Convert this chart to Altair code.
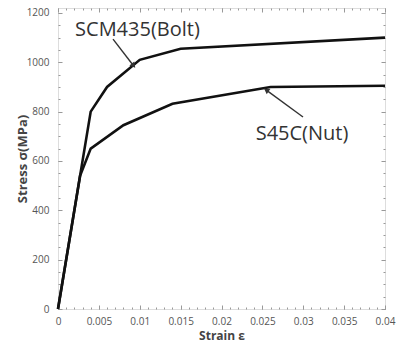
import altair as alt
import pandas as pd

# ---- data ----
scm_strain = [0.0, 0.004, 0.006, 0.010, 0.015, 0.040]
scm_stress = [0, 800, 900, 1010, 1055, 1100]
s45_strain = [0.0, 0.0027, 0.004, 0.008, 0.014, 0.026, 0.040]
s45_stress = [0, 540, 650, 745, 832, 900, 905]

x_major = [0, 0.005, 0.01, 0.015, 0.02, 0.025, 0.03, 0.035, 0.04]
x_minor = [i / 1000 for i in range(0, 41)]
y_major = [0, 200, 400, 600, 800, 1000, 1200]
y_minor = list(range(0, 1201, 50))

labels = ["SCM435(Bolt)", "S45C(Nut)"]
label_x = [0.00972, 0.02985]
label_y = [1130, 710]
arrow_x = [0.00673, 0.02997]
arrow_y = [1094, 778]
arrow_x2 = [0.00917, 0.02557]
arrow_y2 = [989, 885]
arrow_angle = [142, 305]

rows = []
for s, e in zip(scm_strain, scm_stress):
    rows.append({"series": "SCM435", "strain": s, "stress": e})
for s, e in zip(s45_strain, s45_stress):
    rows.append({"series": "S45C", "strain": s, "stress": e})
df = pd.DataFrame(rows)

ann = pd.DataFrame({"label": labels, "x": label_x, "y": label_y})
arr = pd.DataFrame({"x": arrow_x, "y": arrow_y, "x2": arrow_x2, "y2": arrow_y2,
                    "angle": arrow_angle})

xs = alt.Scale(domain=[0, 0.04], nice=False, zero=False)
ys = alt.Scale(domain=[0, 1220], nice=False, zero=False)
FONT = "Open Sans"

lines = alt.Chart(df).mark_line(color="#111111", strokeWidth=2.6).encode(
    x=alt.X("strain:Q", scale=xs, axis=alt.Axis(
        orient="bottom", values=x_major, labelExpr="'' + datum.value",
        ticks=False, domain=False,
        grid=False, labelPadding=7, labelFontSize=10, labelColor="#555555",
        labelFont=FONT, title="Strain ε", titleFont=FONT, titleFontSize=12,
        titleFontWeight="bold", titleColor="#444444", titlePadding=4,
        labelFlush=False)),
    y=alt.Y("stress:Q", scale=ys, axis=alt.Axis(
        orient="left", values=y_major, labelExpr="'' + datum.value",
        ticks=False, domain=False,
        grid=False, labelPadding=9, labelFontSize=10, labelColor="#555555",
        labelFont=FONT, title="Stress σ(MPa)", titleFont=FONT, titleFontSize=13,
        titleFontWeight="bold", titleColor="#444444", titleX=-36,
        titleBaseline="middle", labelFlush=False)),
    detail="series:N",
    order="strain:Q",
)


def tick_layer(xorient, yorient, xvals, yvals, size):
    common = dict(labels=False, domain=False, grid=False, title="",
                  ticks=True, tickSize=size, offset=-size,
                  tickColor="#999999", tickWidth=1)
    return alt.Chart(df).mark_point(opacity=0).encode(
        x=alt.X("strain:Q", scale=xs,
                axis=alt.Axis(orient=xorient, values=xvals, **common)),
        y=alt.Y("stress:Q", scale=ys,
                axis=alt.Axis(orient=yorient, values=yvals, **common)),
    )


t1 = tick_layer("bottom", "left", x_major, y_major, 4)
t2 = tick_layer("bottom", "left", x_minor, y_minor, 2)
t3 = tick_layer("top", "right", x_major, y_major, 4)
t4 = tick_layer("top", "right", x_minor, y_minor, 2)

arrows = alt.Chart(arr).mark_rule(color="#333333", strokeWidth=1.4).encode(
    x=alt.X("x:Q", scale=xs, axis=None), y=alt.Y("y:Q", scale=ys, axis=None),
    x2="x2:Q", y2="y2:Q",
)
heads = alt.Chart(arr).mark_point(shape="triangle", filled=True, size=40,
                                  color="#333333", opacity=1).encode(
    x=alt.X("x2:Q", scale=xs, axis=None), y=alt.Y("y2:Q", scale=ys, axis=None),
    angle=alt.Angle("angle:Q", scale=None),
)
texts = alt.Chart(ann).mark_text(font=FONT, fontSize=20, color="#333333",
                                 align="center", baseline="middle").encode(
    x=alt.X("x:Q", scale=xs, axis=None), y=alt.Y("y:Q", scale=ys, axis=None),
    text="label:N",
)

chart = alt.layer(lines, t1, t2, t3, t4, arrows, heads, texts).resolve_axis(
    x="independent", y="independent"
).properties(
    width=327, height=301,
    autosize=alt.AutoSizeParams(type="none"),
    padding={"left": 58, "top": 8, "right": 14, "bottom": 36},
).configure_view(stroke="#999999", strokeWidth=1).configure(background="white")

chart.save("out.html", embed_options={"renderer": "svg", "actions": False})
